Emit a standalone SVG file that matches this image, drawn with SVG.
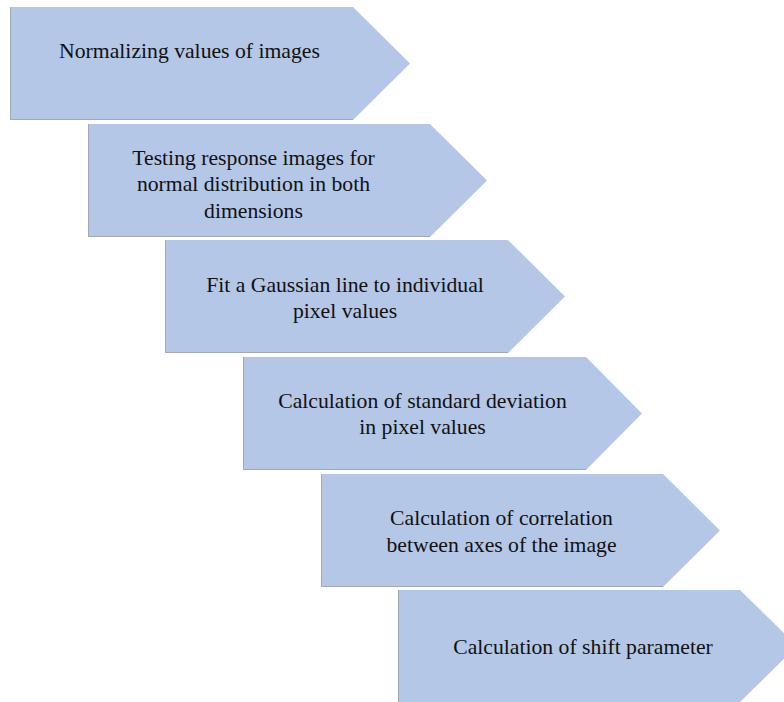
<svg xmlns="http://www.w3.org/2000/svg" width="784" height="702" viewBox="0 0 784 702">
<defs>
<style>
.shape{fill:#b4c7e7;}
.edge{fill:none;stroke:#a3a9b3;stroke-width:1;}
.t{font-family:"Liberation Serif","Times New Roman",serif;font-size:21.7px;fill:#111;text-anchor:middle;}
</style>
</defs>
<rect width="784" height="702" fill="#ffffff"/>
<g id="step1">
<polygon class="shape" points="10,7 353,7 410,63.5 353,120 10,120"/>
<polyline class="edge" points="10.5,7 10.5,119.5 353,119.5"/>
<text class="t" x="189.5" y="58">Normalizing values of images</text>
</g>
<g id="step2">
<polygon class="shape" points="88,124 430,124 487,180.5 430,237 88,237"/>
<polyline class="edge" points="88.5,124 88.5,236.5 430,236.5"/>
<text class="t" x="253.5" y="165">Testing response images for</text>
<text class="t" x="253.5" y="191">normal distribution in both</text>
<text class="t" x="253.5" y="218">dimensions</text>
</g>
<g id="step3">
<polygon class="shape" points="165,240 508,240 565,296.5 508,353 165,353"/>
<polyline class="edge" points="165.5,240 165.5,352.5 508,352.5"/>
<text class="t" x="345" y="292">Fit a Gaussian line to individual</text>
<text class="t" x="345" y="318">pixel values</text>
</g>
<g id="step4">
<polygon class="shape" points="243,357 586,357 642,413.5 586,470 243,470"/>
<polyline class="edge" points="243.5,357 243.5,469.5 586,469.5"/>
<text class="t" x="422.5" y="408">Calculation of standard deviation</text>
<text class="t" x="422.5" y="434">in pixel values</text>
</g>
<g id="step5">
<polygon class="shape" points="321,474 663,474 720,530.5 663,587 321,587"/>
<polyline class="edge" points="321.5,474 321.5,586.5 663,586.5"/>
<text class="t" x="501.5" y="525">Calculation of correlation</text>
<text class="t" x="501.5" y="552">between axes of the image</text>
</g>
<g id="step6">
<polygon class="shape" points="398,590 740,590 797,646 740,702 398,702"/>
<polyline class="edge" points="398.5,590 398.5,702"/>
<text class="t" x="583" y="654">Calculation of shift parameter</text>
</g>
<g id="connectors"></g>
</svg>
